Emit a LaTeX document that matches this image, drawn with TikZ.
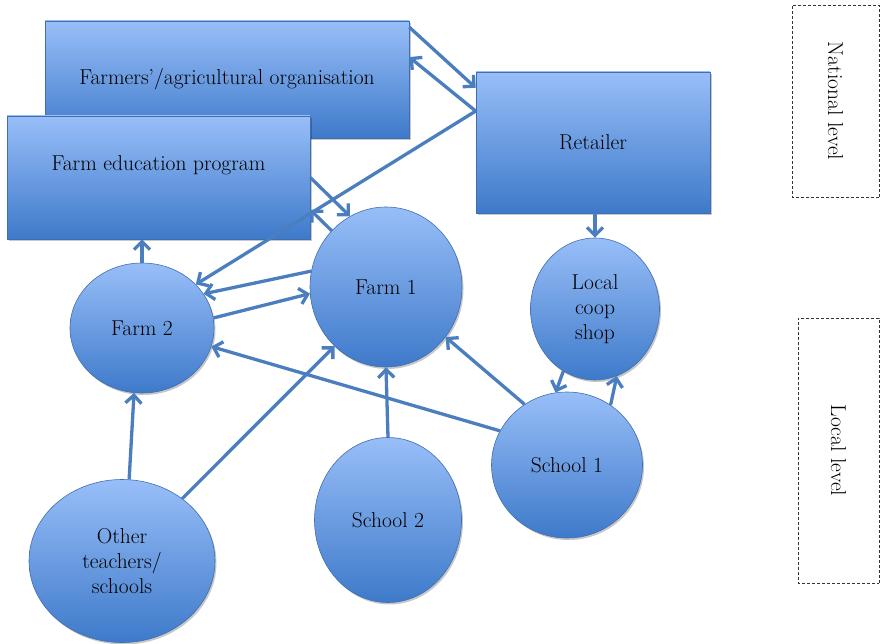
\documentclass[tikz,border=0pt]{standalone}
\usetikzlibrary{shapes.geometric,arrows.meta,shadows,calc}
\definecolor{topc}{RGB}{152,190,248}
\definecolor{botc}{RGB}{62,122,202}
\definecolor{bordc}{RGB}{64,110,175}
\definecolor{arrc}{RGB}{74,126,190}
\begin{document}
\begin{tikzpicture}[x=1pt,y=-1pt,
  txt/.style={font=\rmfamily\fontsize{21.5}{25}\selectfont, align=center},
  shp/.style={txt, draw=bordc, line width=0.6pt, top color=topc, bottom color=botc, inner sep=0pt,
    drop shadow={shadow xshift=1.5pt, shadow yshift=-2pt, fill=black, opacity=0.22}},
  boxn/.style={shp, rectangle},
  ell/.style={shp, ellipse},
  arr/.style={draw=arrc, line width=3.3pt, -{Straight Barb[length=8pt,width=16pt]}},
  lvl/.style={txt, draw=black!80, dash pattern=on 3pt off 2pt, line width=0.6pt, inner sep=0pt}
]
\useasboundingbox (0,0) rectangle (880,644);
% boxes
\node[boxn, minimum width=364pt, minimum height=117pt] (org) at (227,79.5) {Farmers’/agricultural organisation};
\node[boxn, minimum width=303pt, minimum height=123pt,
      label={[txt, yshift=12pt]center:Farm education program}] (edu) at (158.5,177.5) {};
\node[boxn, minimum width=234pt, minimum height=141pt] (ret) at (593,142.5) {Retailer};
% circles
\node[ell, minimum width=152pt, minimum height=160pt] (f1) at (386,287) {Farm 1};
\node[ell, minimum width=144pt, minimum height=130pt] (f2) at (142,328) {Farm 2};
\node[ell, minimum width=129pt, minimum height=142pt] (coop) at (595,309) {Local\\coop\\shop};
\node[ell, minimum width=151pt, minimum height=146pt] (s1) at (567,465) {School 1};
\node[ell, minimum width=147pt, minimum height=165pt] (s2) at (388,520) {School 2};
\node[ell, minimum width=186pt, minimum height=163pt] (oth) at (122,561) {Other\\teachers/\\schools};
% level boxes
\node[lvl, rotate=-90, minimum width=192pt, minimum height=87pt] (nat) at (835.5,101) {National level};
\node[lvl, rotate=-90, minimum width=265pt, minimum height=81pt] (loc) at (838.5,450.5) {Local level};
% arrows
\draw[arr] (org.16.7) -- (ret.155);
\draw[arr] (ret.165.4) -- (org.7.05);
\draw[arr] (ret.165.4) -- (f2.39.4);
\draw[arr] (edu.-0.95) -- (f1.117.8);
\draw[arr] (f1.134.5) -- (edu.-12.8);
\draw[arr] (f2.north) -- (f2.north |- edu.south);
\draw[arr] (f1.168.8) -- (f2.29.7);
\draw[arr] (f2.8.6) -- (f1.185.9);
\draw[arr] (s1.153.4) -- (f2.345.6);
\draw[arr] (s1.125.4) -- (f1.320.6);
\draw[arr] (s2.north) -- (f1.south);
\draw[arr] (oth.85.8) -- (f2.263.9);
\draw[arr] (oth.46.4) -- (f1.229);
\draw[arr] (coop.north |- ret.south) -- (coop.north);
\draw[arr] (coop.243) -- (s1.99.3);
\draw[arr] (s1.54.4) -- (coop.288.9);
\end{tikzpicture}
\end{document}
